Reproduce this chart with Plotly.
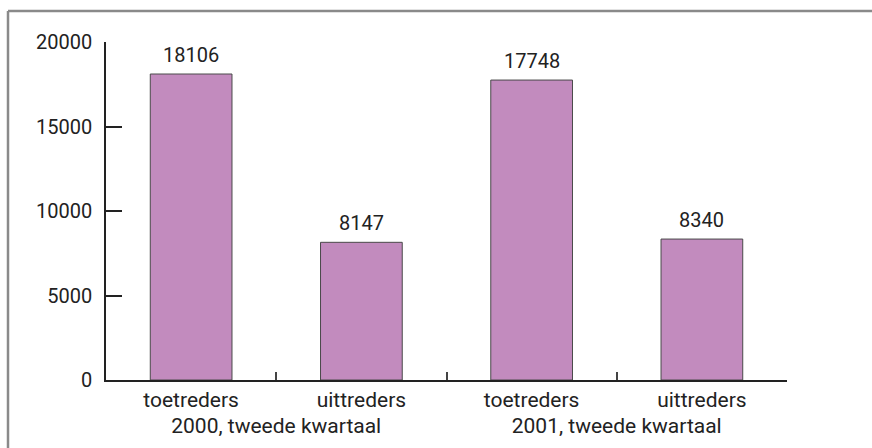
import plotly.graph_objects as go

# Instroom en uitstroom per kwartaal
periods = ["2000, tweede kwartaal", "2000, tweede kwartaal",
           "2001, tweede kwartaal", "2001, tweede kwartaal"]
kinds = ["toetreders", "uittreders", "toetreders", "uittreders"]
values = [18106, 8147, 17748, 8340]
y_ticks = [0, 5000, 10000, 15000, 20000]

FONT = "Roboto, 'Liberation Sans', Arial, sans-serif"
TEXT = "#222222"

fig = go.Figure(
    go.Bar(
        x=[periods, kinds],
        y=values,
        width=0.48,
        marker=dict(color="#C28BBE", line=dict(color="#4a4a4a", width=1)),
        cliponaxis=False,
    )
)

# value labels above each bar
annotations = [
    dict(x=[p, k], xref="x", y=v, yref="y", text=str(v),
         showarrow=False, yanchor="bottom", yshift=5,
         font=dict(family=FONT, size=20, color=TEXT))
    for p, k, v in zip(periods, kinds, values)
]

fig.update_layout(
    width=872,
    height=448,
    margin=dict(l=106, r=85, t=42, b=68),
    paper_bgcolor="white",
    plot_bgcolor="white",
    showlegend=False,
    font=dict(family=FONT, size=20, color=TEXT),
    annotations=annotations,
    shapes=[
        # frame along the top and left edge of the figure
        dict(type="line", xref="paper", yref="paper",
             x0=-98 / 681, x1=1.2, y0=1 + 31 / 338, y1=1 + 31 / 338,
             line=dict(color="#8a8a8a", width=2.5)),
        dict(type="line", xref="paper", yref="paper",
             x0=-98 / 681, x1=-98 / 681, y0=-0.3, y1=1 + 31 / 338,
             line=dict(color="#8a8a8a", width=2.5)),
    ],
)

fig.update_xaxes(
    type="multicategory",
    showline=True,
    linecolor="#222222",
    linewidth=1.5,
    ticks="inside",
    ticklen=8,
    tickcolor="#444444",
    tickwidth=1.5,
    showdividers=False,
    showgrid=False,
    tickfont=dict(family=FONT, size=21, color=TEXT),
)

fig.update_yaxes(
    range=[0, 20000],
    tickvals=y_ticks,
    ticktext=[str(t) for t in y_ticks],
    showline=True,
    linecolor="#222222",
    linewidth=1.5,
    ticks="inside",
    ticklen=16,
    tickcolor="#222222",
    tickwidth=1.5,
    showgrid=False,
    zeroline=False,
    ticklabelstandoff=8,
    tickfont=dict(family=FONT, size=20, color=TEXT),
)

fig.write_html("out.html")
